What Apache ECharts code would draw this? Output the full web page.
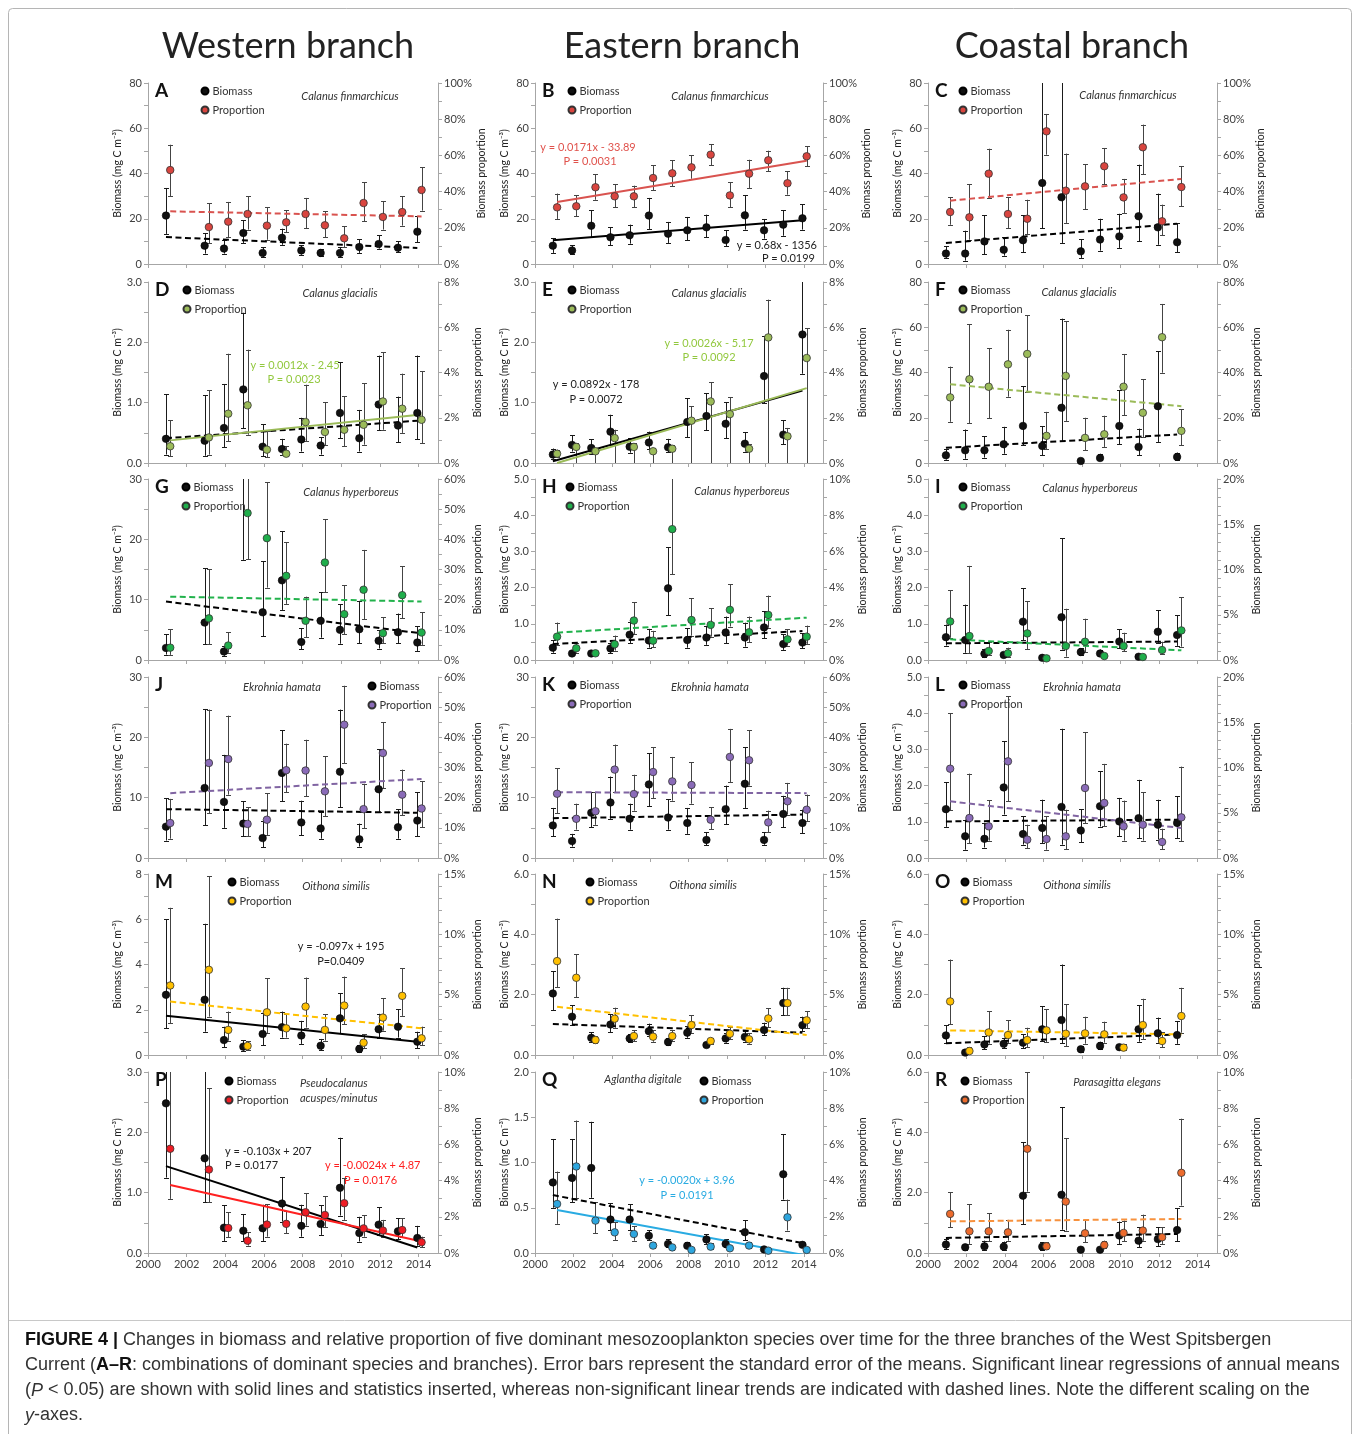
<!DOCTYPE html>
<html><head><meta charset="utf-8">
<script src="https://cdn.jsdelivr.net/npm/echarts@6.0.0/dist/echarts.min.js"></script>
<style>html,body{margin:0;padding:0;background:#fff}#c{width:1360px;height:1434px}</style>
</head><body><div id="c"></div><script>
// ---- DATA: [year, mean, lower, upper] ; proportion values in % ----
const A_bio=[[2001,21.4,13.3,33.6],[2003,8.1,4.6,13.7],[2004,6.8,4.6,10.8],[2005,13.7,9.3,19.3],[2006,4.9,2.9,7.5],[2007,11.6,8.5,15.6],[2008,6.0,4.1,8.2],[2009,4.9,3.4,6.5],[2010,4.9,3.1,7.4],[2011,7.5,4.9,11.0],[2012,8.8,6.8,12.7],[2013,7.2,5.3,10.0],[2014,14.3,9.6,21.1]];
const A_prop=[[2001,51.9,37.4,65.9],[2003,20.4,11.6,33.7],[2004,23.4,14.9,34.3],[2005,27.6,19.0,37.4],[2006,21.2,13.4,31.5],[2007,23.0,17.5,29.8],[2008,27.6,19.9,36.5],[2009,21.4,14.9,29.1],[2010,14.2,9.4,20.8],[2011,33.7,23.6,45.1],[2012,26.0,19.0,34.6],[2013,28.7,21.2,37.4],[2014,40.9,29.5,53.4]];
const A_bioFit=[11.9,7.1], A_propFit=[29.1,26.3];

const B_bio=[[2001,8.1,4.9,11.5],[2002,6.0,4.6,8.2],[2003,16.9,11.8,23.7],[2004,11.8,8.2,16.3],[2005,12.7,9.0,17.4],[2006,21.4,15.5,29.2],[2007,13.4,9.3,18.6],[2008,14.9,10.5,20.8],[2009,16.2,11.9,21.8],[2010,10.6,7.8,14.9],[2011,21.5,15.2,30.5],[2012,14.9,11.2,19.9],[2013,17.4,12.5,23.7],[2014,20.2,15.2,26.5]];
const B_prop=[[2001,31.3,24.9,38.9],[2002,31.9,26.3,37.9],[2003,42.4,35.5,49.7],[2004,37.4,31.3,44.2],[2005,37.4,31.3,43.3],[2006,47.5,40.9,54.5],[2007,50.1,42.9,57.3],[2008,53.4,47.1,60.0],[2009,60.4,54.5,66.3],[2010,37.9,31.5,45.1],[2011,49.9,42.0,57.6],[2012,57.3,51.2,62.6],[2013,44.6,38.3,51.2],[2014,59.5,54.0,65.0]];
const B_bioFit=[10.5,19.3], B_propFit=[34.3,57.1];

const C_bio=[[2001,4.6,2.7,7.8],[2002,4.6,1.5,14.7],[2003,10.0,4.4,21.5],[2004,6.3,3.7,11.8],[2005,10.5,5.2,21.5],[2006,35.8,15.9,95],[2007,29.5,9.3,95],[2008,5.6,2.7,11.0],[2009,10.8,5.9,20.0],[2010,12.2,7.1,22.2],[2011,21.1,10.0,43.9],[2012,16.2,8.5,31.1],[2013,9.6,5.2,18.1]];
const C_prop=[[2001,28.7,21.7,37.0],[2002,25.8,13.4,44.2],[2003,49.9,36.5,63.7],[2004,27.6,19.9,36.8],[2005,25.0,16.6,35.5],[2006,73.3,60.4,82.9],[2007,40.5,22.7,61.0],[2008,42.9,30.4,55.2],[2009,54.0,44.2,64.1],[2010,36.8,28.2,47.0],[2011,64.5,49.7,77.0],[2012,23.6,15.8,32.8],[2013,42.5,31.9,54.0]];
const C_bioFit=[9.3,17.8], C_propFit=[35.0,47.0];

const D_bio=[[2001,0.40,0.14,1.14],[2003,0.37,0.12,1.12],[2004,0.58,0.26,1.31],[2005,1.22,0.58,2.49],[2006,0.27,0.11,0.64],[2007,0.23,0.14,0.40],[2008,0.39,0.19,0.75],[2009,0.29,0.14,0.43],[2010,0.83,0.41,1.67],[2011,0.41,0.19,0.88],[2012,0.97,0.54,1.78],[2013,0.62,0.34,1.10],[2014,0.83,0.39,1.78]];
const D_prop=[[2001,0.74,0.29,1.89],[2003,1.13,0.37,3.21],[2004,2.18,0.96,4.83],[2005,2.55,1.25,5.01],[2006,0.59,0.25,1.40],[2007,0.41,0.29,0.74],[2008,1.81,0.96,3.46],[2009,1.37,0.78,2.68],[2010,1.47,0.74,2.95],[2011,1.69,0.81,3.53],[2012,2.72,1.47,4.90],[2013,2.40,1.33,3.95],[2014,1.91,0.88,4.05]];
const D_bioFit=[0.41,0.70], D_propFit=[1.00,2.14];

const E_bio=[[2001,0.14,0.07,0.24],[2002,0.30,0.19,0.46],[2003,0.25,0.15,0.39],[2004,0.52,0.30,0.80],[2005,0.27,0.17,0.41],[2006,0.34,0.23,0.52],[2007,0.26,0.18,0.40],[2008,0.68,0.43,1.07],[2009,0.78,0.54,1.16],[2010,0.65,0.41,1.01],[2011,0.32,0.19,0.51],[2012,1.44,0.99,2.10],[2013,0.47,0.31,0.71],[2014,2.13,1.48,3.4]];
const E_prop=[[2001,0.41,0.25,0.59],[2002,0.71,0,0.88],[2003,0.52,0,0.66],[2004,1.10,0,1.47],[2005,0.71,0,0.88],[2006,0.52,0,0.66],[2007,0.63,0,0.78],[2008,1.87,0,2.50],[2009,2.72,0,3.58],[2010,2.16,0,2.90],[2011,0.63,0,0.84],[2012,5.55,0,7.22],[2013,1.18,0,1.55],[2014,4.64,0,5.96]];
const E_bioFit=[0.03,1.20], E_propFit=[0.0,3.31];

const F_bio=[[2001,3.4,1.5,6.1],[2002,5.6,1.9,14.8],[2003,5.6,2.4,11.8],[2004,8.3,4.1,16.0],[2005,16.4,7.8,34.0],[2006,7.5,3.4,16.3],[2007,24.4,9.6,63.8],[2008,0.9,0.4,1.2],[2009,2.2,1.2,4.1],[2010,16.4,8.3,32.2],[2011,7.1,3.4,15.2],[2012,25.1,9.3,49.3],[2013,2.7,1.5,4.6]];
const F_prop=[[2001,29.0,18.2,42.6],[2002,37.0,17.5,61.4],[2003,33.7,19.7,50.7],[2004,43.6,29.3,58.9],[2005,48.2,31.5,65.2],[2006,12.0,6.1,22.6],[2007,38.5,18.6,62.6],[2008,11.1,5.6,20.0],[2009,12.7,7.1,20.9],[2010,33.7,21.2,48.2],[2011,22.2,11.5,37.0],[2012,55.6,39.9,70.3],[2013,14.2,7.8,23.7]];
const F_bioFit=[6.7,12.6], F_propFit=[34.8,25.1];

const G_bio=[[2001,2.0,0.9,4.3],[2003,6.2,2.6,15.2],[2004,1.4,0.7,2.3],[2005,34,16.6,48],[2006,7.9,3.9,16.4],[2007,13.2,8.3,21.3],[2008,3.0,1.8,5.3],[2009,6.5,3.7,11.2],[2010,5.0,2.7,9.2],[2011,5.1,2.8,9.8],[2012,3.2,1.9,4.9],[2013,4.6,2.8,7.7],[2014,2.9,1.5,5.6]];
const G_prop=[[2001,4.1,1.7,10.2],[2003,13.8,5.2,30.1],[2004,4.8,2.4,9.2],[2005,48.7,33.4,64],[2006,40.4,24.0,59.0],[2007,27.9,18.6,39.0],[2008,13.0,7.5,21.0],[2009,32.3,22.5,46.7],[2010,15.2,8.6,24.7],[2011,23.3,13.6,36.5],[2012,8.9,5.5,14.2],[2013,21.5,13.8,31.0],[2014,9.1,5.0,15.8]];
const G_bioFit=[9.7,4.5], G_propFit=[21.0,19.4];

const H_bio=[[2001,0.34,0.20,0.54],[2002,0.18,0.13,0.25],[2003,0.18,0.14,0.23],[2004,0.32,0.18,0.48],[2005,0.70,0.46,1.06],[2006,0.54,0.34,0.86],[2007,1.98,1.23,3.12],[2008,0.55,0.34,0.88],[2009,0.62,0.42,0.94],[2010,0.76,0.46,1.20],[2011,0.62,0.37,1.03],[2012,0.90,0.60,1.34],[2013,0.44,0.28,0.71],[2014,0.48,0.32,0.74]];
const H_prop=[[2001,1.29,0.83,2.07],[2002,0.65,0.41,0.92],[2003,0.37,0.28,0.46],[2004,0.87,0.52,1.35],[2005,2.18,1.44,3.19],[2006,1.07,0.70,1.61],[2007,7.23,4.74,10.5],[2008,2.21,1.35,3.41],[2009,1.94,1.29,2.86],[2010,2.77,1.85,4.19],[2011,1.53,0.98,2.40],[2012,2.49,1.79,3.56],[2013,1.14,0.79,1.70],[2014,1.29,0.89,1.90]];
const H_bioFit=[0.44,0.80], H_propFit=[1.51,2.34];

const I_bio=[[2001,0.63,0.40,0.98],[2002,0.55,0.20,1.53],[2003,0.17,0.09,0.31],[2004,0.14,0.08,0.23],[2005,1.06,0.55,1.98],[2006,0.06,0.04,0.09],[2007,1.18,0.29,3.37],[2008,0.22,0.14,0.32],[2009,0.18,0.11,0.29],[2010,0.51,0.32,0.85],[2011,0.09,0.06,0.16],[2012,0.78,0.48,1.38],[2013,0.69,0.39,1.23]];
const I_prop=[[2001,4.26,2.46,7.68],[2002,2.65,0.74,10.4],[2003,0.99,0.51,2.02],[2004,0.74,0.37,1.36],[2005,2.94,1.18,6.51],[2006,0.18,0.07,0.33],[2007,1.54,0.37,5.66],[2008,2.02,0.88,4.56],[2009,0.44,0.26,0.70],[2010,1.54,0.99,3.01],[2011,0.33,0.18,0.51],[2012,1.10,0.62,2.02],[2013,3.27,1.47,6.95]];
const I_bioFit=[0.46,0.51], I_propFit=[2.28,1.07];

const J_bio=[[2001,5.2,2.9,9.9],[2003,11.6,5.4,24.7],[2004,9.3,5.0,17.1],[2005,5.7,3.6,9.4],[2006,3.3,1.8,6.2],[2007,14.1,9.4,21.2],[2008,5.9,3.8,9.5],[2009,4.9,3.2,7.6],[2010,14.3,8.4,24.6],[2011,3.1,1.9,5.7],[2012,11.4,7.6,18.0],[2013,5.1,3.2,8.1],[2014,6.2,3.6,10.9]];
const J_prop=[[2001,11.6,6.4,19.6],[2003,31.5,14.9,49.2],[2004,32.8,21.0,47.2],[2005,11.3,7.2,16.9],[2006,12.7,7.5,21.5],[2007,29.1,21.8,37.9],[2008,29.0,20.4,39.2],[2009,22.1,13.8,33.7],[2010,44.2,31.5,57.1],[2011,16.2,9.9,24.6],[2012,34.8,23.2,45.0],[2013,21.0,14.1,29.3],[2014,16.4,10.2,25.4]];
const J_bioFit=[8.1,7.5], J_propFit=[21.5,26.2];

const K_bio=[[2001,5.4,3.6,8.3],[2002,2.8,1.9,4.0],[2003,7.5,5.1,10.9],[2004,9.2,6.5,13.5],[2005,6.5,4.7,9.0],[2006,12.2,8.6,17.4],[2007,6.7,4.7,9.7],[2008,5.8,4.0,8.3],[2009,3.0,2.1,4.3],[2010,8.1,5.6,12.0],[2011,12.3,8.3,18.4],[2012,3.0,2.2,4.3],[2013,7.3,5.1,10.3],[2014,5.8,4.1,8.0]];
const K_prop=[[2001,21.3,14.9,29.8],[2002,13.0,9.4,18.0],[2003,15.5,11.0,21.8],[2004,29.3,21.8,37.6],[2005,21.2,15.7,27.6],[2006,28.5,19.9,36.8],[2007,25.4,19.0,33.5],[2008,24.2,18.0,31.7],[2009,12.7,9.6,16.9],[2010,33.5,25.2,42.8],[2011,32.4,24.0,42.3],[2012,11.8,8.6,15.7],[2013,18.8,14.4,24.9],[2014,16.0,12.2,21.0]];
const K_bioFit=[6.6,7.2], K_propFit=[21.8,21.5];

const L_bio=[[2001,1.35,0.86,2.09],[2002,0.60,0.23,1.06],[2003,0.53,0.29,0.97],[2004,1.95,1.20,3.22],[2005,0.66,0.37,1.15],[2006,0.83,0.41,1.61],[2007,1.41,0.37,3.57],[2008,0.76,0.43,1.34],[2009,1.43,0.87,2.39],[2010,1.01,0.60,1.66],[2011,1.10,0.55,2.16],[2012,0.92,0.51,1.61],[2013,0.97,0.55,1.70]];
const L_prop=[[2001,9.87,5.3,16.0],[2002,4.42,1.66,9.32],[2003,3.50,1.92,6.37],[2004,10.68,6.26,17.9],[2005,2.03,1.10,3.68],[2006,2.10,0.92,4.60],[2007,2.39,0.99,5.34],[2008,7.73,3.87,13.9],[2009,6.08,3.50,10.4],[2010,3.50,1.92,6.34],[2011,3.68,1.92,7.26],[2012,1.77,0.99,3.24],[2013,4.49,1.84,10.1]];
const L_bioFit=[1.01,1.06], L_propFit=[6.26,3.31];

const M_bio=[[2001,2.66,1.18,6.01],[2003,2.44,1.03,5.80],[2004,0.66,0.34,1.25],[2005,0.37,0.19,0.66],[2006,0.93,0.44,1.85],[2007,1.23,0.77,1.92],[2008,0.86,0.49,1.51],[2009,0.41,0.22,0.71],[2010,1.62,0.96,2.73],[2011,0.27,0.15,0.44],[2012,1.14,0.74,1.82],[2013,1.25,0.77,2.02],[2014,0.59,0.30,1.03]];
const M_prop=[[2001,5.76,2.63,12.2],[2003,7.06,3.18,14.8],[2004,2.08,1.19,3.60],[2005,0.75,0.42,1.16],[2006,3.54,1.80,6.37],[2007,2.21,1.44,3.38],[2008,4.01,2.27,6.42],[2009,2.08,1.19,3.38],[2010,4.10,2.55,6.50],[2011,1.02,0.55,1.72],[2012,3.10,2.02,4.71],[2013,4.90,3.24,7.20],[2014,1.38,0.83,2.35]];
const M_bioFit=[1.73,0.59], M_propFit=[4.43,2.21];

const N_bio=[[2001,2.04,1.49,2.78],[2002,1.27,0.99,1.65],[2003,0.57,0.43,0.76],[2004,1.01,0.76,1.35],[2005,0.55,0.43,0.68],[2006,0.79,0.63,1.04],[2007,0.43,0.33,0.57],[2008,0.74,0.57,0.96],[2009,0.33,0.26,0.41],[2010,0.55,0.41,0.74],[2011,0.60,0.44,0.79],[2012,0.83,0.66,1.07],[2013,1.72,1.32,2.23],[2014,0.99,0.79,1.27]];
const N_prop=[[2001,7.78,5.62,11.3],[2002,6.40,4.80,8.33],[2003,1.24,0.96,1.57],[2004,3.01,2.26,3.92],[2005,1.57,1.16,2.04],[2006,1.52,1.10,2.07],[2007,1.57,1.16,2.07],[2008,2.48,1.85,3.28],[2009,1.16,0.94,1.43],[2010,1.76,1.30,2.32],[2011,1.30,0.94,1.79],[2012,3.03,2.32,3.86],[2013,4.30,3.31,5.57],[2014,2.87,2.21,3.64]];
const N_bioFit=[1.03,0.74], N_propFit=[4.00,1.65];

const O_bio=[[2001,0.65,0.39,0.99],[2002,0.08,0.04,0.13],[2003,0.35,0.19,0.63],[2004,0.37,0.22,0.57],[2005,0.41,0.22,0.68],[2006,0.85,0.46,1.62],[2007,1.16,0.39,3.00],[2008,0.19,0.11,0.30],[2009,0.30,0.21,0.44],[2010,0.26,0.19,0.37],[2011,0.85,0.44,1.65],[2012,0.72,0.41,1.24],[2013,0.66,0.37,1.12]];
const O_prop=[[2001,4.44,2.56,7.91],[2002,0.33,0.14,0.66],[2003,1.87,0.94,3.64],[2004,1.65,0.96,2.87],[2005,1.24,0.66,2.26],[2006,2.04,1.08,3.80],[2007,1.76,0.74,4.19],[2008,1.79,0.94,3.17],[2009,1.71,1.02,2.76],[2010,0.61,0.41,0.88],[2011,2.48,1.30,4.66],[2012,1.16,0.66,1.90],[2013,3.23,1.85,5.57]];
const O_bioFit=[0.39,0.68], O_propFit=[2.04,1.71];

const P_bio=[[2001,2.48,1.25,3.3],[2003,1.57,0.84,3.3],[2004,0.42,0.20,0.79],[2005,0.37,0.20,0.64],[2006,0.41,0.20,0.80],[2007,0.82,0.52,1.26],[2008,0.45,0.27,0.80],[2009,0.48,0.30,0.79],[2010,1.08,0.62,1.91],[2011,0.33,0.19,0.60],[2012,0.47,0.30,0.76],[2013,0.36,0.23,0.58],[2014,0.25,0.12,0.45]];
const P_prop=[[2001,5.76,2.99,10.5],[2003,4.61,2.80,9.11],[2004,1.38,0.87,2.25],[2005,0.68,0.41,1.14],[2006,1.57,0.90,2.68],[2007,1.61,1.09,2.34],[2008,2.25,1.51,3.30],[2009,2.10,1.42,3.14],[2010,2.75,1.83,4.15],[2011,1.36,0.90,2.10],[2012,1.24,0.87,1.83],[2013,1.27,0.87,1.92],[2014,0.59,0.31,0.90]];
const P_bioFit=[1.44,0.09], P_propFit=[3.76,0.63];

const Q_bio=[[2001,0.78,0.50,1.26],[2002,0.83,0.56,1.26],[2003,0.94,0.61,1.45],[2004,0.37,0.25,0.55],[2005,0.37,0.25,0.54],[2006,0.19,0.14,0.25],[2007,0.10,0.07,0.15],[2008,0.08,0.06,0.12],[2009,0.15,0.10,0.21],[2010,0.10,0.07,0.15],[2011,0.23,0.14,0.36],[2012,0.04,0.03,0.06],[2013,0.87,0.59,1.31],[2014,0.09,0.07,0.12]];
const Q_prop=[[2001,2.71,1.61,4.50],[2002,4.78,3.04,7.32],[2003,1.79,1.09,2.80],[2004,1.14,0.72,1.70],[2005,1.05,0.68,1.48],[2006,0.41,0.26,0.59],[2007,0.31,0.18,0.46],[2008,0.17,0.09,0.22],[2009,0.35,0.22,0.54],[2010,0.26,0.17,0.41],[2011,0.41,0.26,0.59],[2012,0.13,0.07,0.18],[2013,1.97,1.24,2.95],[2014,0.17,0.09,0.22]];
const Q_bioFit=[0.64,0.11], Q_propFit=[2.38,-0.14];

const R_bio=[[2001,0.28,0.13,0.46],[2002,0.19,0.11,0.30],[2003,0.22,0.11,0.41],[2004,0.21,0.11,0.38],[2005,1.90,0.96,3.68],[2006,0.21,0.11,0.35],[2007,1.93,0.77,4.84],[2008,0.11,0.06,0.15],[2009,0.11,0.06,0.15],[2010,0.58,0.30,1.04],[2011,0.41,0.19,0.85],[2012,0.46,0.22,0.85],[2013,0.76,0.39,1.49]];
const R_prop=[[2001,2.16,1.42,3.36],[2002,1.20,0.50,2.68],[2003,1.20,0.65,2.20],[2004,1.14,0.68,1.83],[2005,5.76,3.39,10.0],[2006,0.37,0.22,0.59],[2007,2.84,1.24,6.35],[2008,1.09,0.59,1.85],[2009,0.44,0.28,0.68],[2010,1.11,0.65,1.79],[2011,1.24,0.68,2.12],[2012,0.87,0.50,1.42],[2013,4.43,2.62,7.42]];
const R_bioFit=[0.50,0.63], R_propFit=[1.75,1.88];

const YEAR_TICKS=[2000,2002,2004,2006,2008,2010,2012,2014];
const COLUMN_TITLES=['Western branch','Eastern branch','Coastal branch'];

// ---- LAYOUT / STYLE ----
const FONT='Lato, "Open Sans", sans-serif';
const AXIS='#a6a6a6', LBL='#404040';
const COL_LEFT=[148,535,928], COL_W=[290,288,289];
const ROW_TOP=[83,282,479,677,874,1072], GRID_H=181;
const BIO_DX=-0.07, PROP_DX=0.15;
const Y80={max:80,interval:20,dec:0,minor:2}, Y3={max:3,interval:1,dec:1,minor:2}, Y30={max:30,interval:10,dec:0,minor:2},
      Y5={max:5,interval:1,dec:1,minor:2}, Y8={max:8,interval:2,dec:0,minor:2}, Y6={max:6,interval:2,dec:1,minor:2}, Y2={max:2,interval:0.5,dec:1,minor:0};
const P100={max:100,interval:20,minor:2}, P8={max:8,interval:2,minor:2}, P80={max:80,interval:20,minor:2}, P60={max:60,interval:10,minor:2},
      P10={max:10,interval:2,minor:2}, P20={max:20,interval:5,minor:5}, P15={max:15,interval:5,minor:5};
const CLR={red:['#d9453f','#d9534f'],olive:['#9bbb59','#9bbb59'],green:['#1fae4b','#22b24c'],purple:['#8a6bb8','#8064a2'],
           yellow:['#ffc000','#ffc000'],red2:['#ee1c24','#ff2020'],blue:['#2ea6de','#29abe2'],orange:['#ec6b2d','#f7913d']};

const panels=[
 {id:'A',c:0,r:0,bio:A_bio,prop:A_prop,bf:A_bioFit,pf:A_propFit,y:Y80,p:P100,clr:CLR.red,bs:false,ps:false,sp:'Calanus finmarchicus',spPos:[350,96],lg:[204,91]},
 {id:'B',c:1,r:0,bio:B_bio,prop:B_prop,bf:B_bioFit,pf:B_propFit,y:Y80,p:P100,clr:CLR.red,bs:true,ps:true,sp:'Calanus finmarchicus',spPos:[720,96],lg:[571,91]},
 {id:'C',c:2,r:0,bio:C_bio,prop:C_prop,bf:C_bioFit,pf:C_propFit,y:Y80,p:P100,clr:CLR.red,bs:false,ps:false,sp:'Calanus finmarchicus',spPos:[1128,95],lg:[962,91]},
 {id:'D',c:0,r:1,bio:D_bio,prop:D_prop,bf:D_bioFit,pf:D_propFit,y:Y3,p:P8,clr:CLR.olive,bs:false,ps:true,sp:'Calanus glacialis',spPos:[340,293],lg:[186,290]},
 {id:'E',c:1,r:1,bio:E_bio,prop:E_prop,bf:E_bioFit,pf:E_propFit,y:Y3,p:P8,clr:CLR.olive,bs:true,ps:true,sp:'Calanus glacialis',spPos:[709,293],lg:[571,290]},
 {id:'F',c:2,r:1,bio:F_bio,prop:F_prop,bf:F_bioFit,pf:F_propFit,y:Y80,p:P80,clr:CLR.olive,bs:false,ps:false,sp:'Calanus glacialis',spPos:[1079,292],lg:[962,290]},
 {id:'G',c:0,r:2,bio:G_bio,prop:G_prop,bf:G_bioFit,pf:G_propFit,y:Y30,p:P60,clr:CLR.green,bs:false,ps:false,sp:'Calanus hyperboreus',spPos:[351,492],lg:[185,487]},
 {id:'H',c:1,r:2,bio:H_bio,prop:H_prop,bf:H_bioFit,pf:H_propFit,y:Y5,p:P10,clr:CLR.green,bs:false,ps:false,sp:'Calanus hyperboreus',spPos:[742,491],lg:[569,487]},
 {id:'I',c:2,r:2,bio:I_bio,prop:I_prop,bf:I_bioFit,pf:I_propFit,y:Y5,p:P20,clr:CLR.green,bs:false,ps:false,sp:'Calanus hyperboreus',spPos:[1090,488],lg:[962,487]},
 {id:'J',c:0,r:3,bio:J_bio,prop:J_prop,bf:J_bioFit,pf:J_propFit,y:Y30,p:P60,clr:CLR.purple,bs:false,ps:false,sp:'Ekrohnia hamata',spPos:[282,687],lg:[371,686]},
 {id:'K',c:1,r:3,bio:K_bio,prop:K_prop,bf:K_bioFit,pf:K_propFit,y:Y30,p:P60,clr:CLR.purple,bs:false,ps:false,sp:'Ekrohnia hamata',spPos:[710,687],lg:[571,685]},
 {id:'L',c:2,r:3,bio:L_bio,prop:L_prop,bf:L_bioFit,pf:L_propFit,y:Y5,p:P20,clr:CLR.purple,bs:false,ps:false,sp:'Ekrohnia hamata',spPos:[1082,687],lg:[962,685]},
 {id:'M',c:0,r:4,bio:M_bio,prop:M_prop,bf:M_bioFit,pf:M_propFit,y:Y8,p:P15,clr:CLR.yellow,bs:true,ps:false,sp:'Oithona similis',spPos:[336,886],lg:[231,882]},
 {id:'N',c:1,r:4,bio:N_bio,prop:N_prop,bf:N_bioFit,pf:N_propFit,y:Y6,p:P15,clr:CLR.yellow,bs:false,ps:false,sp:'Oithona similis',spPos:[703,885],lg:[589,882]},
 {id:'O',c:2,r:4,bio:O_bio,prop:O_prop,bf:O_bioFit,pf:O_propFit,y:Y6,p:P15,clr:CLR.yellow,bs:false,ps:false,sp:'Oithona similis',spPos:[1077,885],lg:[964,882]},
 {id:'P',c:0,r:5,bio:P_bio,prop:P_prop,bf:P_bioFit,pf:P_propFit,y:Y3,p:P10,clr:CLR.red2,bs:true,ps:true,sp:null,lg:[228,1081]},
 {id:'Q',c:1,r:5,bio:Q_bio,prop:Q_prop,bf:Q_bioFit,pf:Q_propFit,y:Y2,p:P10,clr:CLR.blue,bs:false,ps:true,sp:'Aglantha digitale',spPos:[643,1079],lg:[703,1081]},
 {id:'R',c:2,r:5,bio:R_bio,prop:R_prop,bf:R_bioFit,pf:R_propFit,y:Y6,p:P10,clr:CLR.orange,bs:false,ps:false,sp:'Parasagitta elegans',spPos:[1117,1082],lg:[964,1081]}
];

// equation / extra texts: [text, x, y, align, color]
const notes=[
 ['y = 0.0171x - 33.89',588,147,'center','#e0524c'],['P = 0.0031',590,161,'center','#e0524c'],
 ['y = 0.68x - 1356',817,245,'right','#222'],['P = 0.0199',815,258,'right','#222'],
 ['y = 0.0012x - 2.45',295,365,'center','#92c83e'],['P = 0.0023',294,379,'center','#92c83e'],
 ['y = 0.0892x - 178',596,384,'center','#222'],['P = 0.0072',596,399,'center','#222'],
 ['y = 0.0026x - 5.17',709,343,'center','#92c83e'],['P = 0.0092',709,357,'center','#92c83e'],
 ['y = -0.097x + 195',341,946,'center','#222'],['P=0.0409',341,961,'center','#222'],
 ['y = -0.103x + 207',225,1151,'left','#222'],['P = 0.0177',225,1165,'left','#222'],
 ['y = -0.0024x + 4.87',325,1165,'left','#ff2020'],['P = 0.0176',344,1180,'left','#ff2020'],
 ['y = -0.0020x + 3.96',687,1180,'center','#29abe2'],['P = 0.0191',687,1195,'center','#29abe2']
];

function errRender(color){
  return function(params, api){
    const x=api.value(0), lo=api.value(1), hi=api.value(2);
    const a=api.coord([x,hi]), b=api.coord([x,lo]);
    const cs=params.coordSys, top=cs.y, bottom=cs.y+cs.height;
    const yT=Math.max(a[1],top), yB=Math.min(b[1],bottom);
    const cx=Math.round(a[0])+0.5, hw=2.5, st={stroke:color,lineWidth:1};
    const ch=[{type:'line',shape:{x1:cx,y1:yT,x2:cx,y2:yB},style:st}];
    if(a[1]>=top) ch.push({type:'line',shape:{x1:cx-hw,y1:Math.round(yT)+0.5,x2:cx+hw,y2:Math.round(yT)+0.5},style:st});
    if(b[1]<bottom-0.5) ch.push({type:'line',shape:{x1:cx-hw,y1:Math.round(yB)+0.5,x2:cx+hw,y2:Math.round(yB)+0.5},style:st});
    return {type:'group',children:ch};
  };
}

const grid=[], xAxis=[], yAxis=[], series=[], legend=[], graphic=[];
panels.forEach((p,i)=>{
  const left=COL_LEFT[p.c], top=ROW_TOP[p.r];
  grid.push({left:left,top:top,width:COL_W[p.c],height:GRID_H});
  xAxis.push({type:'value',gridIndex:i,min:2000,max:2015,interval:2,
    axisLine:{lineStyle:{color:AXIS,width:1}},
    axisTick:{show:true,length:4,customValues:YEAR_TICKS,lineStyle:{color:AXIS}},
    axisLabel:{show:p.r===5,customValues:YEAR_TICKS,fontSize:11,color:LBL,fontFamily:FONT,margin:6,formatter:v=>v>2014?'':String(v)},
    splitLine:{show:false}});
  yAxis.push({type:'value',gridIndex:i,position:'left',min:0,max:p.y.max,interval:p.y.interval,
    name:'Biomass (mg C m\u207B\u00B3)',nameLocation:'middle',nameRotate:90,nameGap:25,
    nameTextStyle:{fontSize:10.5,color:'#222',fontFamily:FONT},
    axisLine:{show:true,lineStyle:{color:AXIS}},axisTick:{show:true,length:4,lineStyle:{color:AXIS}},
    minorTick:{show:p.y.minor>0,splitNumber:p.y.minor||2,length:4,lineStyle:{color:AXIS}},
    axisLabel:{fontSize:11,color:LBL,fontFamily:FONT,margin:6,formatter:v=>v.toFixed(p.y.dec)},
    splitLine:{show:false},minorSplitLine:{show:false}});
  yAxis.push({type:'value',gridIndex:i,position:'right',min:0,max:p.p.max,interval:p.p.interval,
    name:'Biomass proportion',nameLocation:'middle',nameRotate:90,nameGap:34,
    nameTextStyle:{fontSize:10.5,color:'#222',fontFamily:FONT},
    axisLine:{show:true,lineStyle:{color:AXIS}},axisTick:{show:true,length:4,lineStyle:{color:AXIS}},
    minorTick:{show:true,splitNumber:p.p.minor,length:4,lineStyle:{color:AXIS}},
    axisLabel:{fontSize:11,color:LBL,fontFamily:FONT,margin:6,formatter:v=>Math.round(v)+'%'},
    splitLine:{show:false},minorSplitLine:{show:false}});
  const yb=2*i, yp=2*i+1;
  series.push({type:'custom',name:p.id+'-be',xAxisIndex:i,yAxisIndex:yb,z:2,silent:true,
    renderItem:errRender('#1a1a1a'),encode:{x:0,y:[1,2]},data:p.bio.map(d=>[d[0]+BIO_DX,d[2],d[3]])});
  series.push({type:'custom',name:p.id+'-pe',xAxisIndex:i,yAxisIndex:yp,z:2,silent:true,
    renderItem:errRender('#444'),encode:{x:0,y:[1,2]},data:p.prop.map(d=>[d[0]+PROP_DX,d[2],d[3]])});
  const b0=p.bio[0][0], b1=p.bio[p.bio.length-1][0], q0=p.prop[0][0], q1=p.prop[p.prop.length-1][0];
  series.push({type:'line',name:p.id+'-bf',xAxisIndex:i,yAxisIndex:yb,z:3,showSymbol:false,symbol:'none',clip:true,silent:true,
    lineStyle:{color:'#000',width:2,type:p.bs?'solid':[6,3.5]},data:[[b0+BIO_DX,p.bf[0]],[b1+BIO_DX,p.bf[1]]]});
  series.push({type:'line',name:p.id+'-pf',xAxisIndex:i,yAxisIndex:yp,z:3,showSymbol:false,symbol:'none',clip:true,silent:true,
    lineStyle:{color:p.clr[1],width:2,type:p.ps?'solid':[6,3.5]},data:[[q0+PROP_DX,p.pf[0]],[q1+PROP_DX,p.pf[1]]]});
  series.push({type:'scatter',name:p.id+'|Biomass',xAxisIndex:i,yAxisIndex:yb,z:4,clip:true,symbol:'circle',symbolSize:7.5,
    itemStyle:{color:'#111',borderColor:'#000',borderWidth:0.6,opacity:1},data:p.bio.map(d=>[d[0]+BIO_DX,d[1]])});
  series.push({type:'scatter',name:p.id+'|Proportion',xAxisIndex:i,yAxisIndex:yp,z:5,clip:true,symbol:'circle',symbolSize:7.5,
    itemStyle:{color:p.clr[0],borderColor:'#333',borderWidth:0.8,opacity:1},data:p.prop.map(d=>[d[0]+PROP_DX,d[1]])});
  legend.push({data:[p.id+'|Biomass',p.id+'|Proportion'],orient:'vertical',left:p.lg[0]-3.5,top:p.lg[1]-5.5,
    itemGap:8,itemWidth:7,itemHeight:7,icon:'circle',padding:0,selectedMode:false,
    formatter:n=>n.split('|')[1],textStyle:{fontSize:11,color:'#333',fontFamily:FONT,padding:[0,0,0,-1]}});
  graphic.push({type:'text',x:left+7,y:top+8,silent:true,style:{text:p.id,font:'bold 19px '+FONT,fill:'#111',textAlign:'left',textVerticalAlign:'middle'}});
  if(p.sp) graphic.push({type:'text',x:p.spPos[0],y:p.spPos[1],silent:true,style:{text:p.sp,font:'italic 11px '+FONT,fill:'#333',textAlign:'center',textVerticalAlign:'middle'}});
});
// P species (two lines)
graphic.push({type:'text',x:300,y:1083,silent:true,style:{text:'Pseudocalanus',font:'italic 11px '+FONT,fill:'#333',textAlign:'left',textVerticalAlign:'middle'}});
graphic.push({type:'text',x:300,y:1098,silent:true,style:{text:'acuspes/minutus',font:'italic 11px '+FONT,fill:'#333',textAlign:'left',textVerticalAlign:'middle'}});
notes.forEach(n=>graphic.push({type:'text',x:n[1],y:n[2],silent:true,style:{text:n[0],font:'11px '+FONT,fill:n[4],textAlign:n[3],textVerticalAlign:'middle'}}));
[288,682,1072].forEach((x,k)=>graphic.push({type:'text',x:x,y:46,silent:true,style:{text:COLUMN_TITLES[k],font:'36px '+FONT,fill:'#222',textAlign:'center',textVerticalAlign:'middle'}}));
// frame + caption
graphic.push({type:'rect',silent:true,shape:{x:8.5,y:8.5,width:1343,height:1440,r:4},style:{fill:'none',stroke:'#b5b5b5',lineWidth:1},z:-1});
graphic.push({type:'line',silent:true,shape:{x1:9,y1:1320.5,x2:1351,y2:1320.5},style:{stroke:'#c8c8c8',lineWidth:1}});
const CAP='"Liberation Sans", Arial, sans-serif';
graphic.push({type:'text',x:25,y:1328,silent:true,style:{
  text:'{b|FIGURE 4 |} Changes in biomass and relative proportion of five dominant mesozooplankton species over time for the three branches of the West Spitsbergen\n'+
       'Current ({b|A\u2013R}: combinations of dominant species and branches). Error bars represent the standard error of the means. Significant linear regressions of annual means\n'+
       '({i|P} < 0.05) are shown with solid lines and statistics inserted, whereas non-significant linear trends are indicated with dashed lines. Note the different scaling on the\n'+
       '{i|y}-axes.',
  fontSize:18,fontFamily:CAP,fill:'#333',lineHeight:25,textAlign:'left',textVerticalAlign:'top',
  rich:{b:{fontSize:18,fontFamily:CAP,fontWeight:'bold',fill:'#111',lineHeight:25},i:{fontSize:18,fontFamily:CAP,fontStyle:'italic',fill:'#333',lineHeight:25}}}});

const chart=echarts.init(document.getElementById('c'),null,{renderer:'canvas',width:1360,height:1434});
chart.setOption({animation:false,backgroundColor:'#fff',grid,xAxis,yAxis,series,legend,graphic});
</script></body></html>
